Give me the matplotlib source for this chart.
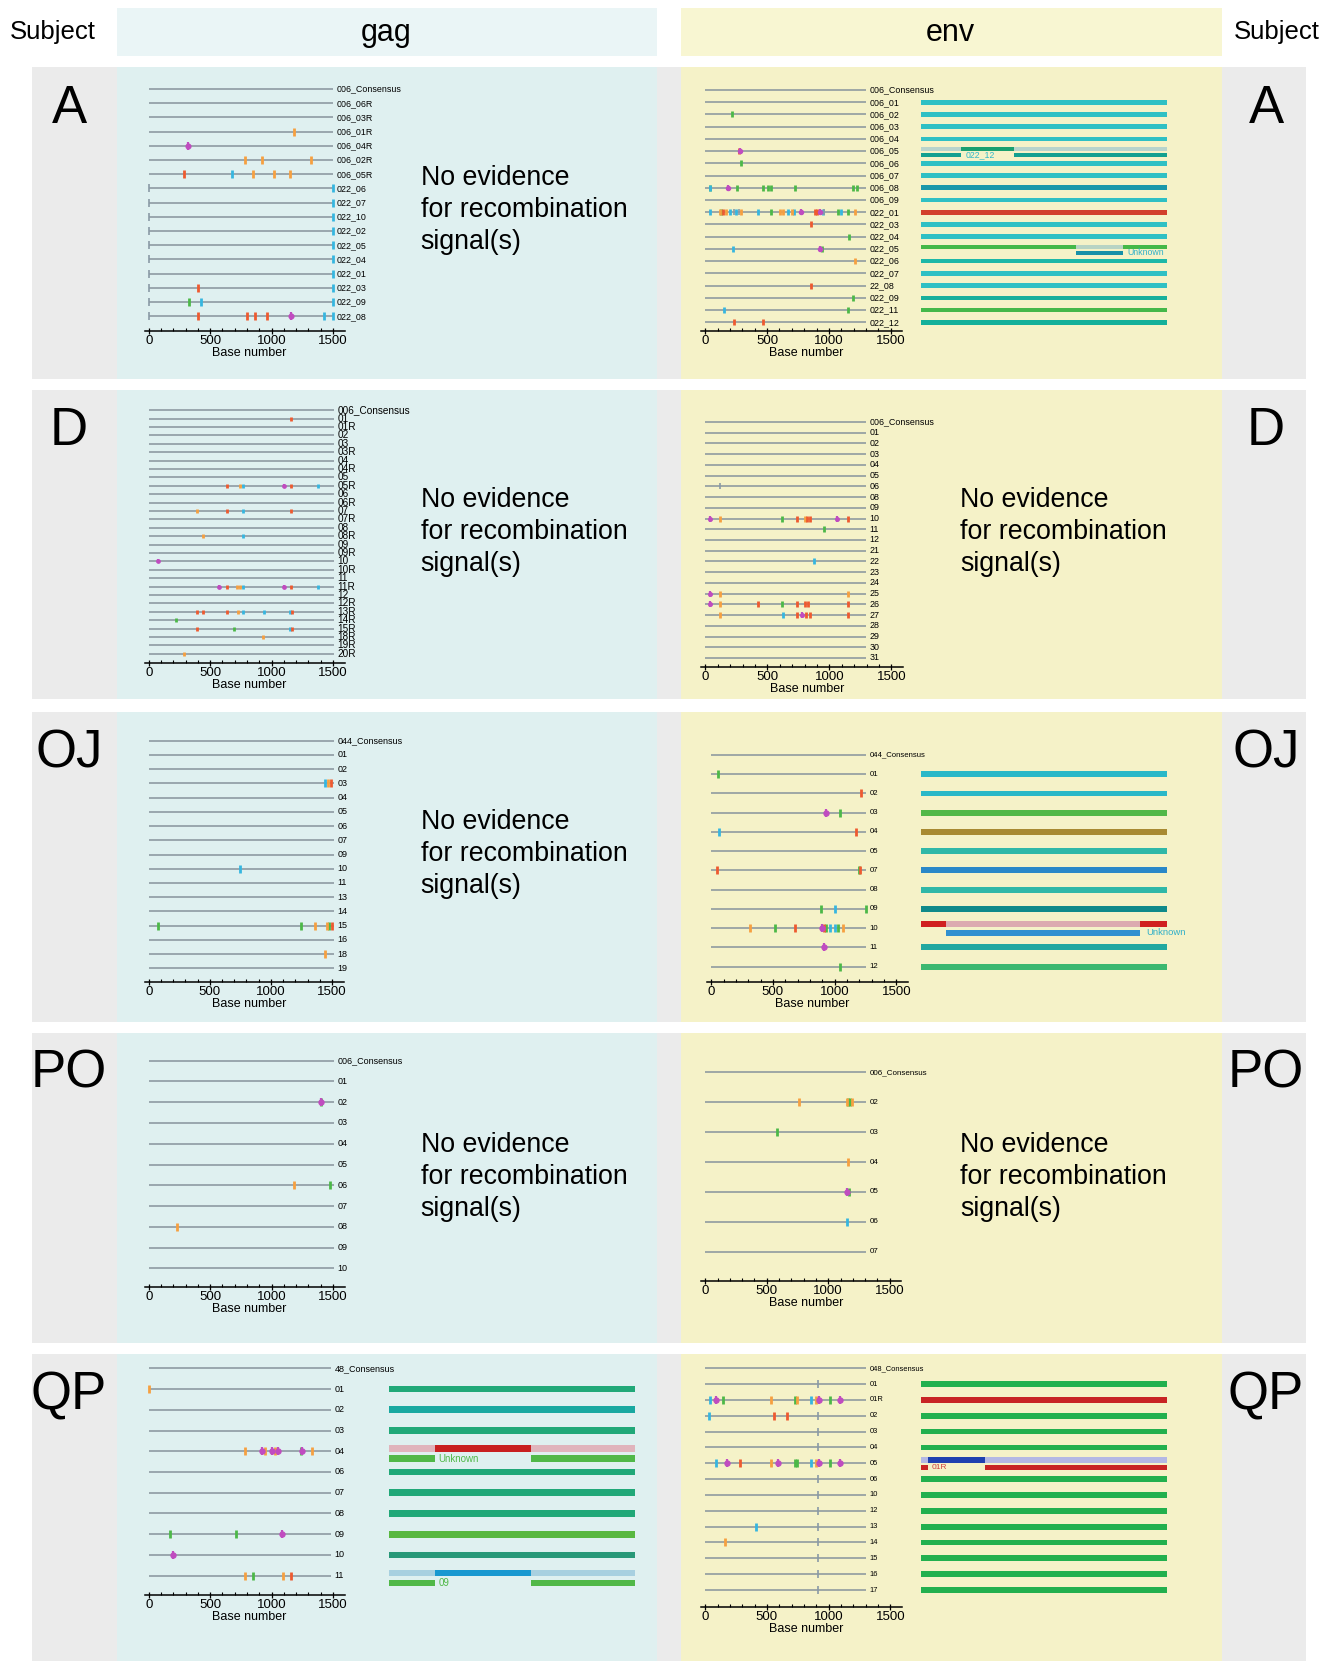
import matplotlib
matplotlib.use('Agg')
import matplotlib.pyplot as plt
from matplotlib.patches import Rectangle

plt.rcParams['font.family'] = ['Liberation Sans', 'DejaVu Sans']

W, H = 1337, 1661

# ------------------------------------------------------------------ data
subjects = ['A', 'D', 'OJ', 'PO', 'QP']
genes = ['gag', 'env']
no_evidence = ['No evidence', 'for recombination', 'signal(s)']

# mutation codes: A green, C cyan, G orange, T red, M magenta (hypermutation), N gray
A_gag_labels = ['006_Consensus', '006_06R', '006_03R', '006_01R', '006_04R', '006_02R', '006_05R',
                '022_06', '022_07', '022_10', '022_02', '022_05', '022_04', '022_01', '022_03',
                '022_09', '022_08']
A_gag_marks = [[], [], [], [(1183, 'G')], [(320, 'M')],
               [(781, 'G'), (925, 'G'), (1324, 'G')],
               [(288, 'T'), (681, 'C'), (852, 'G'), (1023, 'G'), (1147, 'G')],
               [(0, 'N'), (1500, 'C')], [(0, 'N'), (1500, 'C')], [(0, 'N'), (1500, 'C')],
               [(0, 'N'), (1500, 'C')], [(0, 'N'), (1500, 'C')], [(0, 'N'), (1500, 'C')],
               [(0, 'N'), (1500, 'C')],
               [(0, 'N'), (401, 'T'), (1500, 'C')],
               [(0, 'N'), (328, 'A'), (423, 'C'), (1500, 'C')],
               [(0, 'N'), (401, 'T'), (800, 'T'), (868, 'T'), (966, 'T'), (1161, 'M'), (1427, 'C'), (1500, 'C')]]

A_env_labels = ['006_Consensus', '006_01', '006_02', '006_03', '006_04', '006_05', '006_06', '006_07',
                '006_08', '006_09', '022_01', '022_03', '022_04', '022_05', '022_06', '022_07',
                '22_08', '022_09', '022_11', '022_12']
A_env_marks = [[], [], [(218, 'A')], [], [], [(272, 'T'), (280, 'M')], [(291, 'A')], [],
               [(35, 'C'), (40, 'A'), (183, 'M'), (259, 'A'), (464, 'A'), (507, 'A'), (529, 'A'),
                (723, 'A'), (1195, 'A'), (1230, 'A')],
               [],
               [(35, 'C'), (116, 'G'), (125, 'A'), (140, 'T'), (170, 'G'), (200, 'C'), (230, 'N'),
                (250, 'C'), (275, 'N'), (291, 'G'), (426, 'C'), (529, 'A'), (602, 'G'), (629, 'G'),
                (669, 'C'), (700, 'G'), (720, 'C'), (772, 'M'), (885, 'T'), (905, 'T'), (925, 'M'),
                (950, 'C'), (960, 'N'), (1074, 'A'), (1100, 'C'), (1155, 'A'), (1209, 'G')],
               [(853, 'T')], [(1160, 'A')], [(224, 'C'), (925, 'M'), (947, 'A')], [(1214, 'G')],
               [], [(853, 'T')], [(1192, 'A')], [(151, 'C'), (1155, 'A')], [(229, 'T'), (464, 'T')]]
A_env_bars = [None, '#2fc0c4', '#2fc0c4', '#2fc0c4', '#2fc0c4',
              ([(0, 100, '#b8d4cc'), (16.0, 37.7, '#1aa070')],
               [(0, 16.0, '#12a090'), (37.7, 100, '#12a090')], (17.9, '022_12', '#30b8c8')),
              '#2fc0c4', '#2fc0c4', '#1a98aa', '#2fc0c4', '#d2402c', '#2fc0c4', '#2fc0c4',
              ([(0, 62.7, '#44b848'), (62.7, 82.0, '#b8d4c4'), (82.0, 100, '#44b848')],
               [(62.7, 82.0, '#1890a8')], (83.7, 'Unknown', '#30b0c8')),
              '#1db8a8', '#2fc0c4', '#2fc0c4', '#18b09c', '#44b84a', '#14b09a']

D_gag_labels = ['006_Consensus', '01', '01R', '02', '03', '03R', '04', '04R', '05', '05R', '06', '06R',
                '07', '07R', '08', '08R', '09', '09R', '10', '10R', '11', '11R', '12', '12R', '13R',
                '14R', '15R', '18R', '19R', '20R']
D_gag_marks = [[], [(1161, 'T')], [], [], [], [], [], [], [],
               [(637, 'T'), (746, 'G'), (768, 'C'), (1099, 'M'), (1161, 'T'), (1378, 'C')],
               [], [],
               [(391, 'G'), (637, 'T'), (768, 'C'), (1161, 'T')],
               [], [],
               [(442, 'G'), (768, 'C')],
               [], [],
               [(76, 'M')],
               [], [],
               [(572, 'M'), (637, 'T'), (720, 'G'), (740, 'G'), (768, 'C'), (1099, 'M'), (1161, 'T'), (1378, 'C')],
               [], [],
               [(391, 'T'), (442, 'T'), (637, 'T'), (727, 'G'), (768, 'C'), (939, 'C'), (1147, 'C'), (1166, 'T')],
               [(225, 'A')],
               [(391, 'T'), (692, 'A'), (1147, 'C'), (1166, 'T')],
               [(928, 'G')],
               [],
               [(285, 'G')]]

D_env_labels = ['006_Consensus', '01', '02', '03', '04', '05', '06', '08', '09', '10', '11', '12', '21',
                '22', '23', '24', '25', '26', '27', '28', '29', '30', '31']
D_env_marks = [[], [], [], [], [], [], [(116, 'N')], [], [],
               [(40, 'M'), (121, 'G'), (618, 'A'), (739, 'T'), (801, 'G'), (823, 'T'), (841, 'T'), (1059, 'M'), (1151, 'T')],
               [(954, 'A')], [], [], [(874, 'C')], [], [],
               [(40, 'M'), (121, 'G'), (1151, 'G')],
               [(40, 'M'), (121, 'G'), (425, 'T'), (618, 'A'), (739, 'T'), (801, 'T'), (828, 'T'), (1151, 'T')],
               [(121, 'G'), (626, 'C'), (739, 'T'), (782, 'M'), (815, 'T'), (841, 'T'), (1151, 'T')],
               [], [], [], []]

OJ_gag_labels = ['044_Consensus', '01', '02', '03', '04', '05', '06', '07', '09', '10', '11', '13', '14',
                 '15', '16', '18', '19']
OJ_gag_marks = [[], [], [], [(1440, 'C'), (1467, 'G'), (1495, 'T')], [], [], [], [], [],
                [(750, 'C')], [], [], [],
                [(76, 'A'), (1249, 'A'), (1358, 'G'), (1462, 'G'), (1478, 'A'), (1500, 'T')],
                [], [(1445, 'G')], []]

OJ_env_labels = ['044_Consensus', '01', '02', '03', '04', '05', '07', '08', '09', '10', '11', '12']
OJ_env_marks = [[], [(54, 'A')], [(1216, 'T')], [(927, 'M'), (1041, 'A')], [(59, 'C'), (1176, 'T')], [],
                [(49, 'T'), (1195, 'A'), (1205, 'T')], [],
                [(892, 'A'), (1000, 'C'), (1257, 'A')],
                [(316, 'G'), (519, 'A'), (676, 'T'), (897, 'M'), (910, 'T'), (932, 'A'), (959, 'C'),
                 (1000, 'C'), (1027, 'A'), (1068, 'G')],
                [(914, 'M')], [(1046, 'A')]]
OJ_env_bars = [None, '#2ab8c8', '#2ab8c8', '#52b848', '#a88a32', '#30b8a8', '#2a88c8', '#30b8a8',
               '#108a8a',
               ([(0, 10.2, '#d02020'), (10.2, 89.1, '#dcaab0'), (89.1, 100, '#d02020')],
                [(10.2, 89.1, '#3090d0')], (91.6, 'Unknown', '#30b0c8')),
               '#22a8a0', '#3cb870']

PO_gag_labels = ['006_Consensus', '01', '02', '03', '04', '05', '06', '07', '08', '09', '10']
PO_gag_marks = [[], [], [(1405, 'A'), (1405, 'M')], [], [], [], [(1183, 'G'), (1478, 'A')], [],
                [(231, 'G')], [], []]

PO_env_labels = ['006_Consensus', '02', '03', '04', '05', '06', '07']
PO_env_marks = [[], [(762, 'G'), (1150, 'G'), (1162, 'A'), (1175, 'A'), (1196, 'G')], [(586, 'A')],
                [(1161, 'G')], [(1168, 'A'), (1153, 'M')], [(1153, 'C')], []]

QP_gag_labels = ['48_Consensus', '01', '02', '03', '04', '06', '07', '08', '09', '10', '11']
QP_gag_marks = [[], [(3, 'G')], [], [],
                [(784, 'G'), (925, 'M'), (944, 'G'), (1006, 'M'), (1025, 'G'), (1052, 'M'), (1237, 'A'),
                 (1250, 'M'), (1332, 'G')],
                [], [], [],
                [(171, 'A'), (713, 'A'), (1085, 'M')],
                [(198, 'M')],
                [(784, 'G'), (849, 'A'), (1096, 'G'), (1161, 'T')]]
QP_gag_bars = [None, '#20a878', '#18a8a0', '#20a878',
               ([(0, 19.0, '#e0b4bc'), (19.0, 57.7, '#c82020'), (57.7, 100, '#e0b4bc')],
                [(0, 19.0, '#50b848'), (57.7, 100, '#50b848')], (20.1, 'Unknown', '#50b848')),
               '#20a878', '#20a878', '#20a878', '#58b840', '#289878',
               ([(0, 19.0, '#a8d0e0'), (19.0, 57.7, '#1898d0'), (57.7, 100, '#a8d0e0')],
                [(0, 19.0, '#50b848'), (57.7, 100, '#50b848')], (20.1, '09', '#50b848'))]

QP_env_labels = ['048_Consensus', '01', '01R', '02', '03', '04', '05', '06', '10', '12', '13', '14',
                 '15', '16', '17']
QP_env_marks = [[], [(914, 'N')],
                [(35, 'C'), (89, 'M'), (143, 'A'), (535, 'G'), (724, 'A'), (740, 'G'), (859, 'C'),
                 (900, 'G'), (922, 'M'), (1008, 'A'), (1089, 'M')],
                [(30, 'C'), (557, 'T'), (665, 'T'), (914, 'N')],
                [(914, 'N')], [(914, 'N')],
                [(89, 'C'), (178, 'M'), (284, 'T'), (530, 'G'), (589, 'M'), (730, 'A'), (743, 'A'),
                 (859, 'C'), (900, 'G'), (922, 'M'), (1008, 'A'), (1089, 'M')],
                [(914, 'N')], [(914, 'N')], [(914, 'N')],
                [(408, 'C'), (914, 'N')], [(157, 'G'), (914, 'N')],
                [(914, 'N')], [(914, 'N')], [(914, 'N')]]
QP_env_bars = [None, '#22b04e', '#c82424', '#22b04e', '#22b04e', '#22b04e',
               ([(0, 2.7, '#b4b8e4'), (2.7, 26.1, '#2040b0'), (26.1, 100, '#b4b8e4')],
                [(0, 2.7, '#c82424'), (26.1, 100, '#c82424')], (4.1, '01R', '#d04040')),
               '#22b04e', '#22b04e', '#22b04e', '#22b04e', '#22b04e', '#22b04e', '#22b04e', '#22b04e']

# ------------------------------------------------------------------ style
MARK_COLORS = {'A': '#4cb848', 'C': '#36b6e0', 'G': '#f6a040', 'T': '#ee5a30',
               'M': '#c04cc0', 'N': '#8a9aa6'}
LINE_C = '#87939c'
GRAY_BG = '#ebebeb'
GAG_BG = '#dff0f0'
ENV_BG = '#f5f2c8'
GAG_HEAD = '#eaf5f6'
ENV_HEAD = '#f8f6d2'

fig = plt.figure(figsize=(W / 100, H / 100), dpi=100)
fig.patch.set_facecolor('white')


def frect(x0, y0, x1, y1, color):
    fig.add_artist(Rectangle((x0 / W, 1 - y1 / H), (x1 - x0) / W, (y1 - y0) / H,
                             transform=fig.transFigure, facecolor=color, edgecolor='none', zorder=-5))


def ftext(x, y, s, **kw):
    fig.text(x / W, 1 - y / H, s, **kw)


# header
frect(117, 8, 657, 56, GAG_HEAD)
frect(681, 8, 1222, 56, ENV_HEAD)
ftext(53, 32, 'Subject', fontsize=18.5, ha='center', va='center')
ftext(1277, 32, 'Subject', fontsize=18.5, ha='center', va='center')
ftext(386, 33, genes[0], fontsize=22, ha='center', va='center')
ftext(950, 33, genes[1], fontsize=22, ha='center', va='center')

row_bands = [(67, 379), (390, 699), (712, 1022), (1033, 1343), (1354, 1661)]
letter_y = [109, 431, 753, 1074, 1396]
for (y0, y1), subj, ly in zip(row_bands, subjects, letter_y):
    frect(32, y0, 1306, y1, GRAY_BG)
    frect(117, y0, 657, y1, GAG_BG)
    frect(681, y0, 1222, y1, ENV_BG)
    ftext(69, ly, subj, fontsize=38, ha='center', va='center')
    ftext(1266, ly, subj, fontsize=38, ha='center', va='center')


def vgeom(n, geo):
    px0, px1500, py_first, py_last, py_axis = geo
    s = (py_last - py_first) / (n - 1)
    top = py_first - 0.8 * s
    r_axis = (n - 1) + (py_axis - py_last) / s
    return s, top, r_axis


def highlighter(labels, marks, geo, line_end, lab_fs):
    px0, px1500, py_first, py_last, py_axis = geo
    n = len(labels)
    s, top, r_axis = vgeom(n, geo)
    k = (px1500 - px0) / 1500.0
    xmin, xmax = -33, 1595
    left = px0 + xmin * k
    right = px0 + xmax * k
    ax = fig.add_axes([left / W, 1 - py_axis / H, (right - left) / W, (py_axis - top) / H])
    ax.set_xlim(xmin, xmax)
    ax.set_ylim(r_axis, -0.8)
    ax.patch.set_alpha(0)
    for sp in ['top', 'right', 'left']:
        ax.spines[sp].set_visible(False)
    ax.spines['bottom'].set_linewidth(1.1)
    ax.set_yticks([])
    ax.set_xticks([0, 500, 1000, 1500])
    ax.set_xticks(range(0, 1600, 100), minor=True)
    ax.tick_params(axis='x', which='major', direction='inout', length=4, width=0.9,
                   labelsize=9.5, pad=1)
    ax.tick_params(axis='x', which='minor', direction='in', length=2.5, width=0.8)
    ax.set_xlabel('Base number', fontsize=9, labelpad=0)
    ax.xaxis.label.set_x((820 - xmin) / (xmax - xmin))
    ax.hlines(range(n), 0, line_end, color=LINE_C, lw=1.1, zorder=1)
    h_px = min(max(0.5 * s, 5.0), 7.5)
    for i, (lab, row) in enumerate(zip(labels, marks)):
        ax.text(line_end + 28, i, lab, fontsize=lab_fs, ha='left', va='center', clip_on=False)
    for code, col in MARK_COLORS.items():
        xs = [p for i, row in enumerate(marks) for (p, c) in row if c == code]
        ys = [i for i, row in enumerate(marks) for (p, c) in row if c == code]
        if not xs:
            continue
        if code == 'M':
            ax.plot(xs, ys, ls='none', marker='o', ms=h_px * 0.48, color=col, mec=col,
                    zorder=4, clip_on=False)
            ax.plot(xs, ys, ls='none', marker='|', ms=h_px * 0.72, mew=1.6, color=col,
                    zorder=4, clip_on=False)
        else:
            ax.plot(xs, ys, ls='none', marker='|', ms=h_px * 0.72,
                    mew=2.0 if code != 'N' else 1.2, color=col, zorder=3, clip_on=False)
    return ax


def recomb_bars(bars, geo, n, span, bh, offs, tfs):
    s, top, r_axis = vgeom(n, geo)
    x0, x1 = span
    py_axis = geo[4]
    ax = fig.add_axes([x0 / W, 1 - py_axis / H, (x1 - x0) / W, (py_axis - top) / H])
    ax.set_xlim(0, 100)
    ax.set_ylim(r_axis, -0.8)
    ax.axis('off')
    for i, b in enumerate(bars):
        if b is None:
            continue
        if isinstance(b, str):
            ax.barh(i, 100, left=0, height=bh, color=b, linewidth=0)
        else:
            upper, lower, (tx, tl, tc) = b
            for (a, e, c) in upper:
                ax.barh(i + offs[0], e - a, left=a, height=bh, color=c, linewidth=0)
            for (a, e, c) in lower:
                ax.barh(i + offs[1], e - a, left=a, height=bh, color=c, linewidth=0)
            ax.text(tx, i + offs[1], tl, color=tc, fontsize=tfs, ha='left', va='center',
                    clip_on=False)
    return ax


def no_ev(x, y_base):
    for j, line in enumerate(no_evidence):
        ftext(x, y_base + 31.8 * j, line, fontsize=19.3, ha='left', va='baseline')


# geometry: (px of 0, px of 1500, y first row, y last row, y axis line)
G_A_gag = (148.7, 333, 89, 316.3, 331.3)
G_A_env = (705.3, 890.7, 90, 322.3, 331.3)
G_D_gag = (148.7, 333, 410.3, 653.7, 662.7)
G_D_env = (705.3, 891.3, 422, 658, 667)
G_OJ_gag = (148.7, 332, 740.7, 968.3, 981.7)
G_OJ_env = (711.3, 896.3, 755, 966.7, 982.3)
G_PO_gag = (148.7, 333, 1060.7, 1268.3, 1286.7)
G_PO_env = (705.3, 889.7, 1072.3, 1251.7, 1280.7)
G_QP_gag = (148.7, 333, 1368.3, 1575.7, 1595)
G_QP_env = (705.3, 890.3, 1368.3, 1590, 1606.7)

highlighter(A_gag_labels, A_gag_marks, G_A_gag, 1500, 6.4)
highlighter(A_env_labels, A_env_marks, G_A_env, 1303, 6.4)
recomb_bars(A_env_bars, G_A_env, len(A_env_labels), (921.3, 1167.3), 0.38, (-0.16, 0.33), 6.3)
no_ev(420.6, 185)

highlighter(D_gag_labels, D_gag_marks, G_D_gag, 1510, 7.2)
highlighter(D_env_labels, D_env_marks, G_D_env, 1298, 6.4)
no_ev(420.6, 507)
no_ev(960, 507)

highlighter(OJ_gag_labels, OJ_gag_marks, G_OJ_gag, 1515, 6.5)
highlighter(OJ_env_labels, OJ_env_marks, G_OJ_env, 1257, 5.6)
recomb_bars(OJ_env_bars, G_OJ_env, len(OJ_env_labels), (921.3, 1167), 0.31, (-0.24, 0.24), 6.8)
no_ev(420.6, 829)

highlighter(PO_gag_labels, PO_gag_marks, G_PO_gag, 1510, 6.5)
highlighter(PO_env_labels, PO_env_marks, G_PO_env, 1310, 5.8)
no_ev(420.6, 1152)
no_ev(960, 1152)

highlighter(QP_gag_labels, QP_gag_marks, G_QP_gag, 1485, 6.5)
recomb_bars(QP_gag_bars, G_QP_gag, len(QP_gag_labels), (388.7, 634.7), 0.32, (-0.13, 0.35), 7.0)
highlighter(QP_env_labels, QP_env_marks, G_QP_env, 1305, 5.4)
recomb_bars(QP_env_bars, G_QP_env, len(QP_env_labels), (921.3, 1167), 0.36, (-0.21, 0.27), 6.0)

fig.savefig('out.png', dpi=100, facecolor='white')
